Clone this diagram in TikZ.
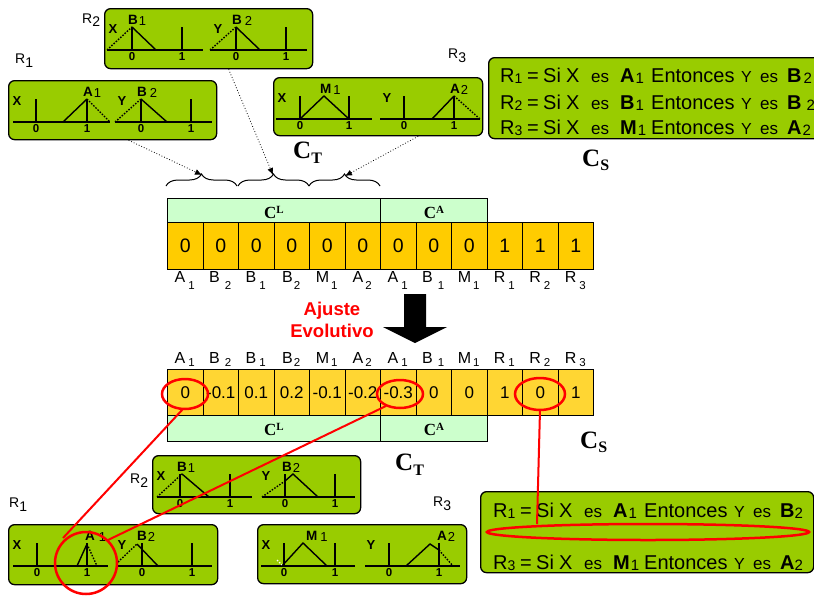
\documentclass[tikz,border=0pt]{standalone}
\usepackage{fontspec}
\setmainfont{Liberation Sans}
\newfontfamily\serifb{Liberation Serif}
\usetikzlibrary{decorations.pathreplacing,arrows.meta,calc}
\pgfdeclarelayer{bg}
\pgfsetlayers{bg,main}
\definecolor{fuzz}{HTML}{99CC00}
\definecolor{genetop}{HTML}{FFCC00}
\definecolor{genebot}{HTML}{FFD633}
\definecolor{barg}{HTML}{CCFFCC}
\newcommand{\fs}[1]{\fontsize{#1}{#1}\selectfont}
\newcommand{\tsub}[3]{#1\hspace{#2}\raisebox{-7pt}{\fs{11.5}#3}}
\newcommand{\bsub}[3]{#1\hspace{#2}\raisebox{-3pt}{\fs{11.5}#3}}
\newcommand{\fzaxis}[5]{%
  \draw[ax] (#2,42) -- (#5,42);
  \draw[tk] (#3,19) -- (#3,42);
  \draw[tk] (#4,19) -- (#4,42);
  \node[tl] (#1z) at (#3,49) {0};
  \node[tl] (#1o) at (#4,49) {1};}
\newcommand{\mfl}[5]{\node[ml] (#1) at (#2,16) {\bfseries #3\hspace{#4}\mdseries\fs{13}\raisebox{-1pt}{#5}};}
\newcommand{\xylab}[1]{\node[xyl] (#1x) at (9,21) {X}; \node[xyl] (#1y) at (114,21) {Y};}
\newcommand{\lab}[3]{\textbf{#1}\hspace{#2}{\fs{15}\raisebox{-1pt}{#3}}}
\newcommand{\rulel}[6]{%
  \node[rw] (#1r) at (#2,#3) {R\raisebox{-1pt}{\fs{14}#4}};
  \node[rw] (#1q) at (#2+27,#3) {=};
  \node[rw] (#1s) at (#2+43,#3) {Si};
  \node[rw] (#1x) at (#2+66,#3) {X};
  \node[rw,font=\fs{17}] (#1e) at (#2+91,#3) {es};
  \node[rw] (#1a) at (#2+120,#3) {#5};
  \node[rw] (#1n) at (#2+151,#3) {Entonces};
  \node[rw,font=\fs{16}] (#1y) at (#2+241,#3) {Y};
  \node[rw,font=\fs{17}] (#1f) at (#2+260,#3) {es};
  \node[rw] (#1c) at (#2+287,#3) {#6};}
\begin{document}
\begin{tikzpicture}[x=1pt,y=-1pt,
  fz/.style={draw=black,fill=fuzz,line width=1.3pt,rounded corners=6pt,anchor=north west,inner sep=0pt},
  ax/.style={line width=1.6pt},
  tk/.style={line width=1.4pt},
  mf/.style={line width=1.4pt},
  mfd/.style={line width=1.4pt,dash pattern=on 1.5pt off 1.5pt},
  tl/.style={font=\bfseries\fs{11.5},inner sep=0pt},
  ml/.style={anchor=base west,inner sep=0pt,font=\fs{13.5}},
  xyl/.style={font=\bfseries\fs{13},inner sep=0pt},
  rw/.style={anchor=base west,inner sep=0pt,font=\fs{20}},
  rl/.style={anchor=base west,inner sep=0pt,font=\fs{14}},
  tcell/.style={draw,fill=genetop,line width=1pt,anchor=north west,minimum width=35.5pt,minimum height=47pt,inner sep=0pt,font=\fs{19.5}},
  bcell/.style={draw,fill=genebot,line width=1pt,anchor=north west,minimum width=35.5pt,minimum height=46pt,inner sep=0pt,font=\fs{17}},
  bar/.style={draw,fill=barg,line width=1pt,anchor=north west,inner sep=0pt,minimum height=24pt},
  barlab/.style={anchor=base,inner sep=0pt,font=\serifb\bfseries\fs{17}},
  glab/.style={anchor=base,inner sep=0pt,font=\fs{16}},
  conn/.style={line width=1.2pt},
  darr/.style={dotted,line width=0.8pt,-{Latex[length=7pt,width=6pt]}},
  brc/.style={line width=1pt,decorate,decoration={brace,amplitude=12pt}},
  rd/.style={red,line width=2pt},
  cfont/.style={font=\serifb\bfseries\fs{25},anchor=base west,inner sep=0pt}]
\useasboundingbox (0,0) rectangle (814,595);
\clip (0,0) rectangle (814,595);
\fill[white] (0,0) rectangle (814,595);

% ---------- top chromosome ----------
\node[bar,minimum width=213pt] (clt) at (167,198) {};
\node[bar,minimum width=106.5pt] (cat) at (380,198) {};
\node[barlab] (cltl) at (274,218) {C\raisebox{5pt}{\fs{11}L}};
\node[barlab] (catl) at (434,218) {C\raisebox{5pt}{\fs{11}A}};
\foreach \v [count=\i] in {0,0,0,0,0,0,0,0,0,1,1,1}
  \node[tcell] (t\i) at ({167+35.5*(\i-1)},222) {\v};
\foreach \l [count=\i] in {{\tsub{A}{3pt}{1}},{\tsub{B}{5pt}{2}},{\tsub{B}{3pt}{1}},{\tsub{B}{1pt}{2}},{\tsub{M}{2pt}{1}},{\tsub{A}{2pt}{2}},{\tsub{A}{3pt}{1}},{\tsub{B}{5pt}{1}},{\tsub{M}{2pt}{1}},{\tsub{R}{3pt}{1}},{\tsub{R}{3pt}{2}},{\tsub{R}{3pt}{3}}}
  \node[glab] (tl\i) at ({167+35.5*(\i-0.5)},282) {\l};

% braces
\draw[brc] (166,186) -- (237,186);
\draw[brc] (238,186) -- (309,186);
\draw[brc] (309,186) -- (380,186);
\coordinate (br1) at (202,175);
\coordinate (br2) at (273,175);
\coordinate (br3) at (345,176);

% ---------- bottom chromosome ----------
\foreach \v [count=\i] in {0,-0.1,0.1,0.2,-0.1,-0.2,-0.3,0,0,1,0,1}
  \node[bcell] (b\i) at ({167+35.5*(\i-1)},369) {\v};
\foreach \l [count=\i] in {{\bsub{A}{3pt}{1}},{\bsub{B}{5pt}{2}},{\bsub{B}{3pt}{1}},{\bsub{B}{1pt}{2}},{\bsub{M}{2pt}{1}},{\bsub{A}{2pt}{2}},{\bsub{A}{3pt}{1}},{\bsub{B}{5pt}{1}},{\bsub{M}{2pt}{1}},{\bsub{R}{3pt}{1}},{\bsub{R}{3pt}{2}},{\bsub{R}{3pt}{3}}}
  \node[glab] (bl\i) at ({167+35.5*(\i-0.5)},363) {\l};
\node[bar,minimum width=213pt,minimum height=26pt] (clb) at (167,415) {};
\node[bar,minimum width=106.5pt,minimum height=26pt] (cab) at (380,415) {};
\node[barlab] (clbl) at (274,435) {C\raisebox{5pt}{\fs{11}L}};
\node[barlab] (cabl) at (434,435) {C\raisebox{5pt}{\fs{11}A}};

% ---------- top fuzzy boxes ----------
\node[fz,minimum width=208pt,minimum height=60pt] (r2t) at (104,8) {};
\begin{scope}[shift={(104,8)}]
\fzaxis{r2ta}{3}{28}{78}{99}
\fzaxis{r2tb}{106}{132}{182}{203}
\xylab{r2t}
\draw[mfd] (3,42) -- (28,19); \draw[mf] (28,19) -- (52,42);
\draw[mfd] (106,42) -- (132,19); \draw[mf] (132,19) -- (156,42);
\mfl{r2tl1}{24}{B}{1pt}{1}
\mfl{r2tl2}{128}{B}{3pt}{2}
\end{scope}

\node[fz,minimum width=208pt,minimum height=59pt] (r1t) at (8,80) {};
\begin{scope}[shift={(8,80)}]
\fzaxis{r1ta}{5}{28}{79}{102}
\fzaxis{r1tb}{107}{133}{183}{204}
\xylab{r1t}
\draw[mf] (55,42) -- (79,19); \draw[mfd] (79,19) -- (102,42);
\draw[mfd] (107,42) -- (133,19); \draw[mf] (133,19) -- (159,42);
\mfl{r1tl1}{75}{A}{1pt}{1}
\mfl{r1tl2}{129}{B}{3pt}{2}
\end{scope}

\node[fz,minimum width=209pt,minimum height=58pt] (r3t) at (273,77) {};
\begin{scope}[shift={(273,77)}]
\fzaxis{r3ta}{3}{27}{76}{99}
\fzaxis{r3tb}{107}{131}{181}{207}
\xylab{r3t}
\draw[mf] (27,42) -- (51,19) -- (76,42);
\draw[mf] (159,42) -- (181,19); \draw[mfd] (181,19) -- (207,42);
\mfl{r3tl1}{47}{M}{2pt}{1}
\mfl{r3tl2}{177}{A}{1pt}{2}
\end{scope}

\node[fz,minimum width=352pt,minimum height=81pt] (cst) at (488,57) {};
\rulel{ra}{500}{82}{1}{\lab{A}{1pt}{1}}{\lab{B}{2pt}{2}}
\rulel{rb}{500}{109}{2}{\lab{B}{1pt}{1}}{\lab{B}{5pt}{2}}
\rulel{rc}{500}{134}{3}{\lab{M}{1pt}{1}}{\lab{A}{1pt}{2}}

% ---------- bottom fuzzy boxes ----------
\node[fz,minimum width=208pt,minimum height=58pt] (r2b) at (152,455) {};
\begin{scope}[shift={(152,455)}]
\fzaxis{r2ba}{5}{28}{78}{100}
\fzaxis{r2bb}{110}{133}{183}{203}
\xylab{r2b}
\draw[mfd] (5,42) -- (30,19); \draw[mf] (30,19) -- (57,42);
\draw[mfd] (110,42) -- (133,26); \draw[mf] (133,26) -- (141,19) -- (166,42);
\mfl{r2bl1}{25}{B}{1pt}{1}
\mfl{r2bl2}{130}{B}{1pt}{2}
\end{scope}

\node[fz,minimum width=209pt,minimum height=60pt] (r1b) at (8,524) {};
\begin{scope}[shift={(8,524)}]
\fzaxis{r1ba}{5}{29}{79}{100}
\fzaxis{r1bb}{110}{134}{184}{204}
\xylab{r1b}
\draw[mf] (69,42) -- (79,20); \draw[mfd] (79,20) -- (89,42);
\draw[mfd] (110,38) -- (129,20); \draw[mf] (129,20) -- (150,42);
\mfl{r1bl1}{77}{A}{4pt}{1}
\mfl{r1bl2}{129}{B}{1pt}{2}
\end{scope}

\node[fz,minimum width=209pt,minimum height=59pt] (r3b) at (257,524) {};
\begin{scope}[shift={(257,524)}]
\fzaxis{r3ba}{4}{27}{78}{98}
\fzaxis{r3bb}{108}{132}{182}{203}
\xylab{r3b}
\draw[mfd,white] (20,36) -- (25,41);
\draw[mf] (25,42) -- (46,19) -- (70,42);
\draw[mf] (149,42) -- (173,20) -- (182,26); \draw[mfd] (182,26) -- (196,42);
\mfl{r3bl1}{49}{M}{3pt}{1}
\mfl{r3bl2}{180}{A}{1pt}{2}
\end{scope}

\node[fz,minimum width=333pt,minimum height=81pt] (csb) at (480,491) {};
\rulel{rd}{493}{517}{1}{\lab{A}{1pt}{1}}{\lab{B}{0pt}{2}}
\rulel{re}{493}{569}{3}{\lab{M}{1pt}{1}}{\lab{A}{0pt}{2}}

% ---------- labels ----------
\node[rl] (lr1t) at (15,63) {R\raisebox{-4pt}{1}};
\node[rl] (lr2t) at (82,23) {R\raisebox{-3pt}{2}};
\node[rl] (lr3t) at (448,58) {R\raisebox{-4pt}{3}};
\node[rl] (lr2b) at (130,483) {R\raisebox{-4pt}{2}};
\node[rl] (lr1b) at (9,507) {R\raisebox{-4pt}{1}};
\node[rl] (lr3b) at (433,506) {R\raisebox{-4pt}{3}};
\node[cfont] (ctt) at (293,158) {C\raisebox{-5pt}{\fs{16}T}};
\node[cfont] (cstl) at (582,166) {C\raisebox{-4pt}{\fs{16}S}};
\node[cfont] (ctb) at (395,470) {C\raisebox{-5pt}{\fs{16}T}};
\node[cfont] (csbl) at (580,448) {C\raisebox{-4pt}{\fs{16}S}};
\node[anchor=base,inner sep=0pt,text=red,font=\bfseries\fs{18.5}] (aj1) at (332,315) {Ajuste};
\node[anchor=base,inner sep=0pt,text=red,font=\bfseries\fs{18.5}] (aj2) at (332,337) {Evolutivo};
\fill (404,294) -- (426,294) -- (426,327) -- (447,327) -- (415,343) -- (383,327) -- (404,327) -- cycle;

% ---------- connectors ----------
\begin{pgfonlayer}{bg}
\draw[conn] ($(r1t.south west)+(22,0)$) -- (clt.north west);
\draw[conn] ($(r3t.south east)+(-1,-4)$) -- (cat.north east);
\draw[conn] ($(cst.south west)+(2,0)$) -- (cat.south east);
\draw[conn] ($(cst.south west)+(320,0)$) -- (t12.north east);
\draw[conn] (clb.south west) -- ($(r1b.north west)+(15,0)$);
\draw[conn] ($(cab.south east)+(-3,0)$) -- ($(r3b.north east)+(-3,0)$);
\draw[conn] (cab.south east) -- ($(csb.north west)+(1,0)$);
\draw[conn] (b12.south east) -- ($(csb.north east)+(-13,0)$);
\end{pgfonlayer}
\draw[darr] ($(r1t.south)+(16,0)$) -- (br1);
\draw[darr] ($(r2t.south)+(20,0)$) -- (br2);
\draw[darr] ($(r3t.south)+(40,0)$) -- (br3);

% ---------- red marks ----------
\draw[rd,line width=2.5pt] (185,394) ellipse [x radius=23pt,y radius=15pt];
\draw[rd,line width=2.5pt] (400,394) ellipse [x radius=23pt,y radius=14pt];
\draw[rd,line width=2.5pt] (540,394) ellipse [x radius=25pt,y radius=16pt];
\draw[rd,line width=2.5pt] (86,563) circle [radius=31pt];
\draw[rd,line width=2.5pt] (648,532) ellipse [x radius=161pt,y radius=8pt];
\coordinate (e1) at (183,409);
\coordinate (e7) at (386,406);
\coordinate (e11) at (540,410);
\coordinate (cA) at (63,538);
\coordinate (cB) at (108,540);
\coordinate (cR) at (537,524);
\draw[rd] (e1) -- (cA);
\draw[rd] (e7) -- (cB);
\draw[rd] (e11) -- (cR);
\end{tikzpicture}
\end{document}
